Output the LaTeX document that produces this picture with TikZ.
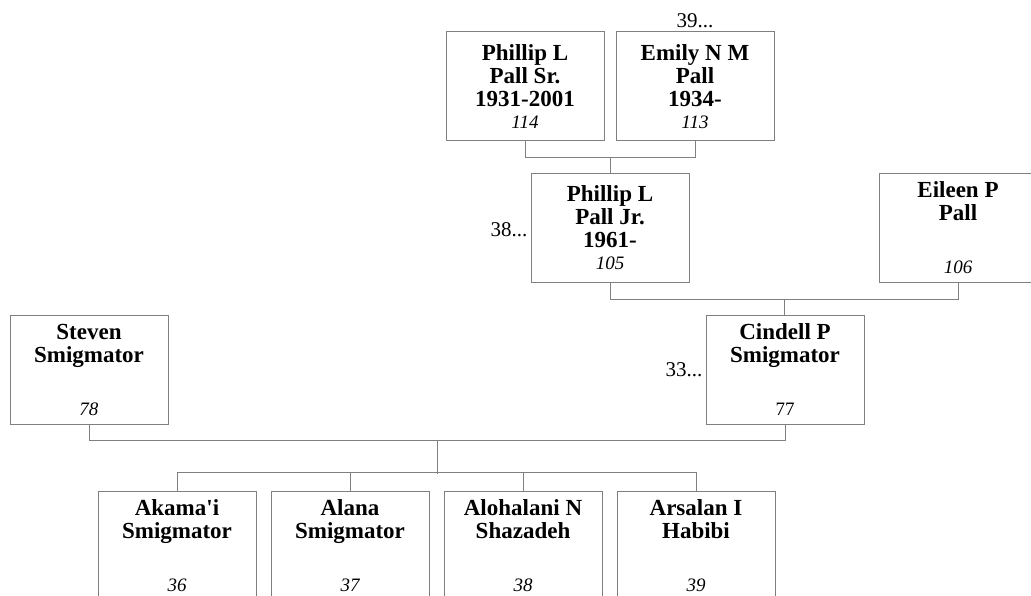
\documentclass[tikz,border=0pt]{standalone}
\usepackage{fontspec}
\setmainfont{Liberation Serif}
\usepackage{tikz}
\usetikzlibrary{calc}

\begin{document}
\begin{tikzpicture}[x=1pt, y=-1pt,
    person/.style={draw=gray, line width=1pt, minimum width=158pt, minimum height=109pt,
      inner sep=0pt, align=center, font=\fontsize{23}{23}\selectfont\bfseries},
    famline/.style={draw=gray, line width=1pt},
    moreref/.style={font=\fontsize{21}{24}\selectfont, inner sep=3pt}]
  \clip (0,0) rectangle (1031,596);
  \useasboundingbox (0,0) rectangle (1031,596);

  % grandparents
  \node[person] (sr) at (525,86.5) {Phillip L\\Pall Sr.\\1931-2001\\[-1pt]{\mdseries\itshape\fontsize{19}{20}\selectfont 114}};
  \node[person] (emily) at (695,86.5) {Emily N M\\Pall\\1934-\\[-1pt]{\mdseries\itshape\fontsize{19}{20}\selectfont 113}};
  \node[moreref, anchor=south] (emilyref) at (emily.north) {39...};

  % parents
  \node[person] (jr) at (610,228) {Phillip L\\Pall Jr.\\1961-\\[-1pt]{\mdseries\itshape\fontsize{19}{20}\selectfont 105}};
  \node[moreref, anchor=east] (jrref) at ($(jr.west)+(0,2)$) {38...};
  \node[person] (eileen) at (958,228) {Eileen P\\Pall\\[30pt]{\mdseries\itshape\fontsize{19}{20}\selectfont 106}};

  \node[person] (steven) at (89,369.5) {Steven\\Smigmator\\[30pt]{\mdseries\itshape\fontsize{19}{20}\selectfont 78}};
  \node[person] (cindell) at (785,369.5) {Cindell P\\Smigmator\\[30pt]{\mdseries\fontsize{19}{20}\selectfont 77}};
  \node[moreref, anchor=east] (cindellref) at (cindell.west) {33...};

  % children
  \node[person] (akamai) at (177,545.5) {Akama\textquotesingle i\\Smigmator\\[30pt]{\mdseries\itshape\fontsize{19}{20}\selectfont 36}};
  \node[person] (alana) at (350,545.5) {Alana\\Smigmator\\[30pt]{\mdseries\itshape\fontsize{19}{20}\selectfont 37}};
  \node[person] (alohalani) at (523,545.5) {Alohalani N\\Shazadeh\\[30pt]{\mdseries\itshape\fontsize{19}{20}\selectfont 38}};
  \node[person] (arsalan) at (696,545.5) {Arsalan I\\Habibi\\[30pt]{\mdseries\itshape\fontsize{19}{20}\selectfont 39}};

  % family lines
  \coordinate (gpbar) at ($(sr.south)!0.5!(emily.south)+(0,16)$);
  \draw[famline] (sr.south) -- ++(0,16) -| (emily.south);
  \draw[famline] (gpbar) -- (gpbar |- jr.north);

  \coordinate (pbar) at ($(jr.south)!0.5!(eileen.south)+(0,16)$);
  \draw[famline] (jr.south) -- ++(0,16) -| (eileen.south);
  \draw[famline] (pbar) -- (pbar |- cindell.north);

  \coordinate (cbar) at ($(steven.south)!0.5!(cindell.south)+(0,16)$);
  \draw[famline] (steven.south) -- ++(0,16) -| (cindell.south);
  \coordinate (kidbar) at ($(cbar)+(0,33)$);
  \draw[famline] (cbar) -- (kidbar);
  \draw[famline] (akamai.north) -- ++(0,-18) -| (arsalan.north);
  \draw[famline] (alana.north) -- ++(0,-18);
  \draw[famline] (alohalani.north) -- ++(0,-18);
\end{tikzpicture}
\end{document}
